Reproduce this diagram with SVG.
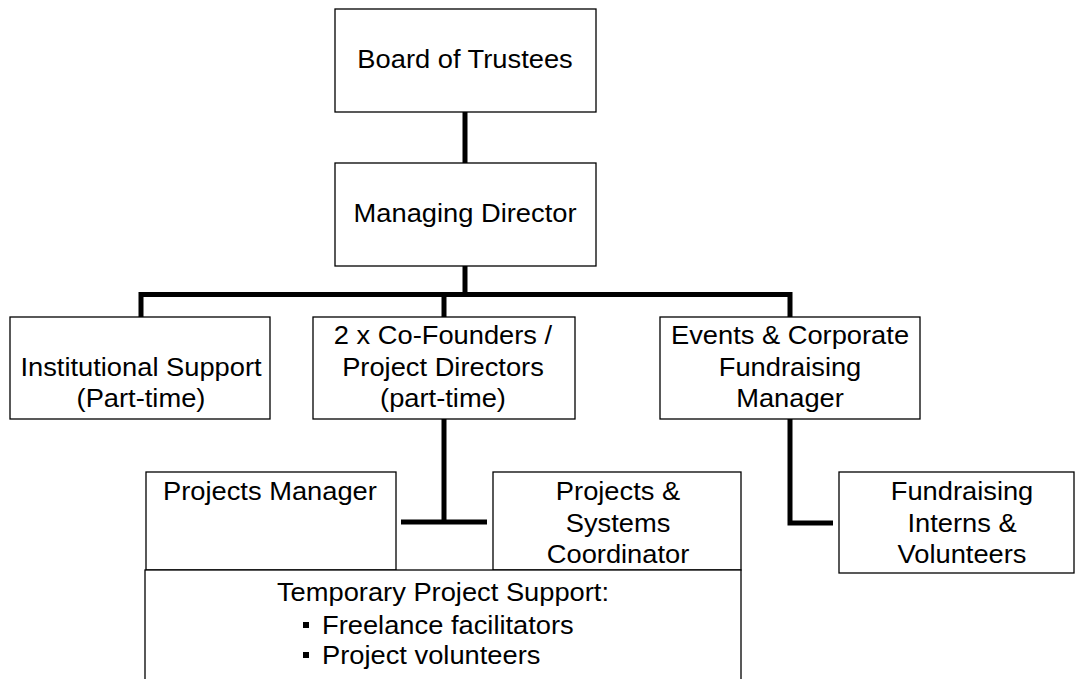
<svg xmlns="http://www.w3.org/2000/svg" width="1075" height="679" viewBox="0 0 1075 679">
<style>
.box{fill:#fff;stroke:#000;stroke-width:1.3}
.t{font-family:"Liberation Sans",Arial,sans-serif;font-size:26px;fill:#000;text-anchor:middle}
.s{text-anchor:start}
.c{fill:none;stroke:#000;stroke-width:5;stroke-linejoin:miter;stroke-linecap:butt}
</style>
<rect width="1075" height="679" fill="#fff"/>
<g id="connectors">
<path class="c" d="M465 112V163"/>
<path class="c" d="M465 266V294.5"/>
<path class="c" d="M141 317V294.5H790V317"/>
<path class="c" d="M444 294.5V317"/>
<path class="c" d="M444 419V522M401 522H487"/>
<path class="c" d="M790 419V523H833"/>
</g>
<g id="board">
<rect class="box" x="335" y="9" width="261" height="103"/>
<text class="t" transform="scale(1.05 1)" x="442.9" y="68">Board of Trustees</text>
</g>
<g id="md">
<rect class="box" x="335" y="163" width="261" height="103"/>
<text class="t" transform="scale(1.05 1)" x="442.9" y="222">Managing Director</text>
</g>
<g id="institutional">
<rect class="box" x="10" y="317" width="260" height="102"/>
<text class="t" transform="scale(1.05 1)" x="134.3" y="376">Institutional Support</text>
<text class="t" transform="scale(1.05 1)" x="134.3" y="407">(Part-time)</text>
</g>
<g id="cofounders">
<rect class="box" x="313" y="317" width="262" height="102"/>
<text class="t" transform="scale(1.05 1)" x="421.9" y="344">2 x Co-Founders /</text>
<text class="t" transform="scale(1.05 1)" x="421.9" y="376">Project Directors</text>
<text class="t" transform="scale(1.05 1)" x="421.9" y="407">(part-time)</text>
</g>
<g id="events">
<rect class="box" x="660" y="317" width="260" height="102"/>
<text class="t" transform="scale(1.05 1)" x="752.4" y="344">Events &amp; Corporate</text>
<text class="t" transform="scale(1.05 1)" x="752.4" y="376">Fundraising</text>
<text class="t" transform="scale(1.05 1)" x="752.4" y="407">Manager</text>
</g>
<g id="projects-manager">
<rect class="box" x="146" y="472" width="250" height="98"/>
<text class="t" transform="scale(1.05 1)" x="257.1" y="500">Projects Manager</text>
</g>
<g id="systems-coordinator">
<rect class="box" x="493" y="472" width="248" height="98"/>
<text class="t" transform="scale(1.05 1)" x="588.6" y="500">Projects &amp;</text>
<text class="t" transform="scale(1.05 1)" x="588.6" y="532">Systems</text>
<text class="t" transform="scale(1.05 1)" x="588.6" y="563">Coordinator</text>
</g>
<g id="fundraising-interns">
<rect class="box" x="839" y="472" width="235" height="101"/>
<text class="t" transform="scale(1.05 1)" x="916.2" y="500">Fundraising</text>
<text class="t" transform="scale(1.05 1)" x="916.2" y="532">Interns &amp;</text>
<text class="t" transform="scale(1.05 1)" x="916.2" y="563">Volunteers</text>
</g>
<g id="temporary-support">
<rect class="box" x="145" y="570" width="596" height="130"/>
<text class="t" transform="scale(1.05 1)" x="421.9" y="601">Temporary Project Support:</text>
<rect x="303" y="622" width="6" height="6" fill="#000"/>
<text class="t s" transform="scale(1.05 1)" x="306.7" y="634">Freelance facilitators</text>
<rect x="303" y="652" width="6" height="6" fill="#000"/>
<text class="t s" transform="scale(1.05 1)" x="306.7" y="664">Project volunteers</text>
</g>
</svg>
